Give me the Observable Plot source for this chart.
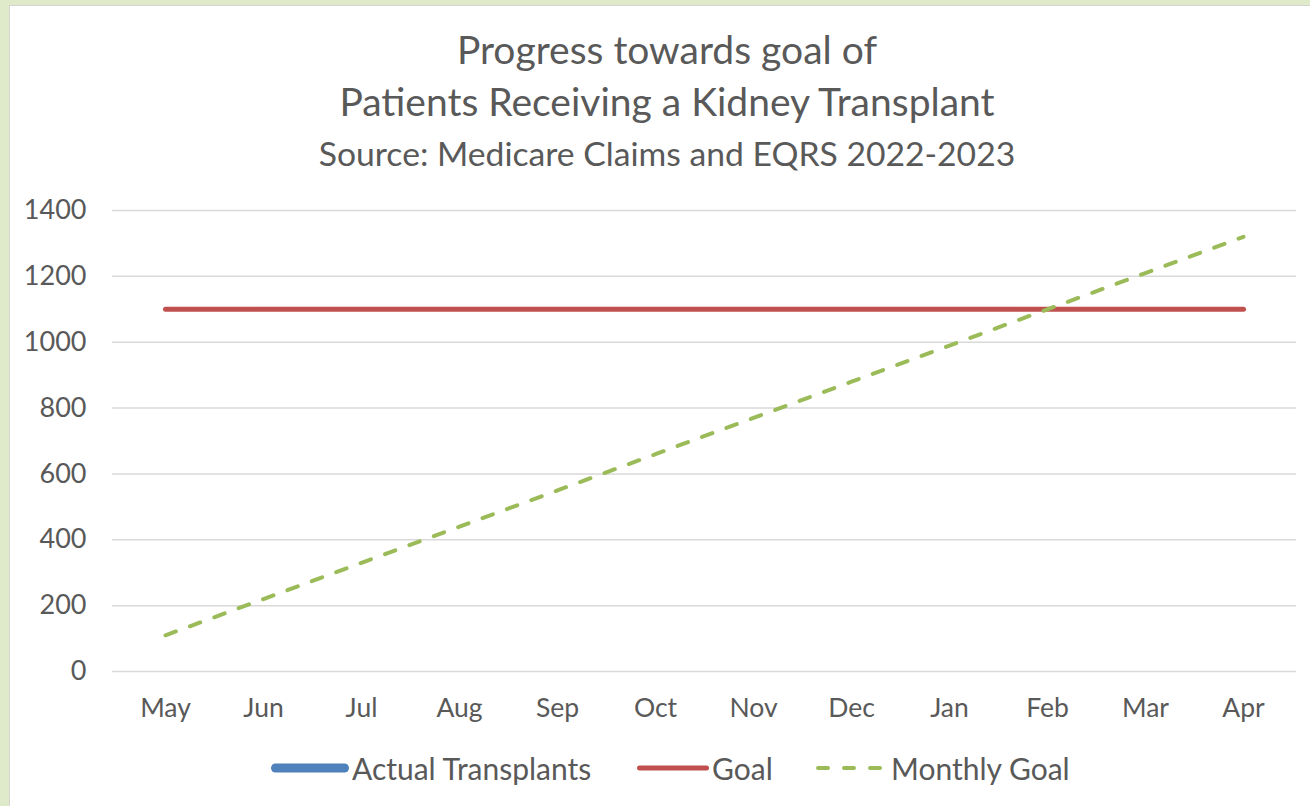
<!DOCTYPE html>
<html>
<head>
<meta charset="utf-8">
<script src="https://cdn.jsdelivr.net/npm/d3@7"></script>
<script src="https://cdn.jsdelivr.net/npm/@observablehq/plot@0.6"></script>
<style>
  html, body { margin: 0; padding: 0; }
  body { width: 1310px; height: 806px; background: #dfeacb; font-family: Lato, "Open Sans", sans-serif; color: #595959; overflow: hidden; }
  #panel { position: absolute; left: 9px; top: 5px; width: 1301px; height: 801px; background: #fff; border-top: 1.5px solid #d4d4d4; border-left: 1.5px solid #d4d4d4; box-sizing: border-box; }
  .t { position: absolute; left: 0; width: 1334px; text-align: center; white-space: nowrap; }
  #chart { position: absolute; left: 0; top: 180px; }
  #legend { position: absolute; top: 748px; left: 0; width: 1310px; height: 40px; }
  .li { position: absolute; top: 0; display: flex; align-items: center; font-size: 30px; height: 40px; }
</style>
</head>
<body>
<div id="panel"></div>
<div class="t" style="top:26px;font-size:39px;">Progress towards goal of</div>
<div class="t" style="top:78px;font-size:39px;">Patients Receiving a Kidney Transplant</div>
<div class="t" style="top:133px;font-size:33.7px;">Source: Medicare Claims and EQRS 2022-2023</div>
<div id="chart"></div>
<div id="legend"></div>
<script>
const months = ["May","Jun","Jul","Aug","Sep","Oct","Nov","Dec","Jan","Feb","Mar","Apr"];
const actualTransplants = [null,null,null,null,null,null,null,null,null,null,null,null];
const goal = [1100,1100,1100,1100,1100,1100,1100,1100,1100,1100,1100,1100];
const monthlyGoal = [110,220,330,440,550,660,770,880,990,1100,1210,1320];
const yTicks = [0,200,400,600,800,1000,1200,1400];

const seriesNames = ["Actual Transplants","Goal","Monthly Goal"];
const seriesColors = ["#4f81bd","#c0504d","#9bbb59"];

const rows = (vals) => months.map((m, i) => ({month: m, value: vals[i]}));

const plot = Plot.plot({
  width: 1310,
  height: 570,
  marginLeft: 112,
  marginRight: 14,
  marginTop: 30,
  marginBottom: 79,
  style: {fontFamily: "Lato, 'Open Sans', sans-serif", fontSize: "27px", color: "#595959", background: "transparent", overflow: "visible"},
  x: {type: "point", domain: months, padding: 0.5, label: null},
  y: {domain: [0, 1400], ticks: yTicks, label: null},
  marks: [
    Plot.gridY(yTicks, {stroke: "#d9d9d9", strokeOpacity: 1, strokeWidth: 1.5}),
    Plot.axisY(yTicks, {tickSize: 0, tickPadding: 26, label: null, fontSize: 27, fill: "#595959", tickFormat: d => String(d)}),
    Plot.axisX({tickSize: 0, tickPadding: 27, label: null, fontSize: 26.5, fill: "#595959"}),
    Plot.line(rows(actualTransplants), {x: "month", y: "value", stroke: seriesColors[0], strokeWidth: 9, strokeLinecap: "round", defined: d => d.value != null}),
    Plot.line(rows(goal), {x: "month", y: "value", stroke: seriesColors[1], strokeWidth: 5, strokeLinecap: "round"}),
    Plot.line(rows(monthlyGoal), {x: "month", y: "value", stroke: seriesColors[2], strokeWidth: 4, strokeLinecap: "round", strokeDasharray: "11,15"})
  ]
});
document.getElementById("chart").appendChild(plot);

// legend
const legend = document.getElementById("legend");
const legendItems = [
  {name: seriesNames[0], color: seriesColors[0], left: 270, w: 80, sw: 9, dash: null},
  {name: seriesNames[1], color: seriesColors[1], left: 636, w: 74, sw: 5, dash: null},
  {name: seriesNames[2], color: seriesColors[2], left: 815, w: 74, sw: 4, dash: "10,16"}
];
for (const it of legendItems) {
  const d = document.createElement("div");
  d.className = "li";
  d.style.left = it.left + "px";
  d.innerHTML = `<svg width="${it.w}" height="20" style="margin-right:2px"><line x1="${it.sw/2+1}" x2="${it.w - it.sw/2 - 1}" y1="10" y2="10" stroke="${it.color}" stroke-width="${it.sw}" stroke-linecap="round" ${it.dash ? `stroke-dasharray="${it.dash}"` : ""}/></svg><span>${it.name}</span>`;
  legend.appendChild(d);
}
</script>
</body>
</html>
